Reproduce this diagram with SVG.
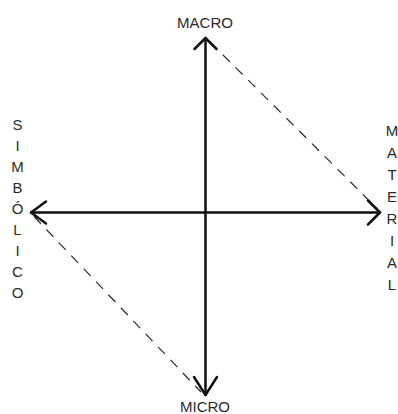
<svg xmlns="http://www.w3.org/2000/svg" width="398" height="414" viewBox="0 0 398 414">
<style>
text{font-family:"Liberation Sans",Arial,sans-serif;font-size:15px;fill:#2b2b2b;text-anchor:middle}
.axis{stroke:#111;stroke-width:2.5;fill:none;stroke-linecap:round;stroke-linejoin:round}
.dash{stroke:#2b2b2b;stroke-width:1.2;fill:none;stroke-dasharray:10 8}
</style>
<rect width="398" height="414" fill="#fff"/>
<g id="connectors">
<path class="dash" d="M210 42 L377 208.5"/>
<path class="dash" d="M34 216.5 L201 392"/>
<path class="axis" d="M205.5 38 L205.5 395"/>
<path class="axis" d="M31 212.5 L380 212.5"/>
<polyline class="axis" points="194.5,49 205.5,38 216.5,49"/>
<polyline class="axis" points="194,377 205.5,395 217,377"/>
<polyline class="axis" points="46,201.5 31,212.5 46,223.5"/>
<polyline class="axis" points="368,200.5 380,212.5 368,224.5"/>
</g>
<g id="macro"><text x="205" y="28">MACRO</text></g>
<g id="micro"><text x="205" y="412">MICRO</text></g>
<g id="simbolico">
<text x="17.5" y="130">S</text>
<text x="17.5" y="151">I</text>
<text x="17.5" y="172">M</text>
<text x="17.5" y="193">B</text>
<text x="17.5" y="214">Ó</text>
<text x="17.5" y="235">L</text>
<text x="17.5" y="256">I</text>
<text x="17.5" y="277">C</text>
<text x="17.5" y="298">O</text>
</g>
<g id="material">
<text x="392" y="136">M</text>
<text x="392" y="158">A</text>
<text x="392" y="180">T</text>
<text x="392" y="202">E</text>
<text x="392" y="224">R</text>
<text x="392" y="246">I</text>
<text x="392" y="268">A</text>
<text x="392" y="290">L</text>
</g>
</svg>
